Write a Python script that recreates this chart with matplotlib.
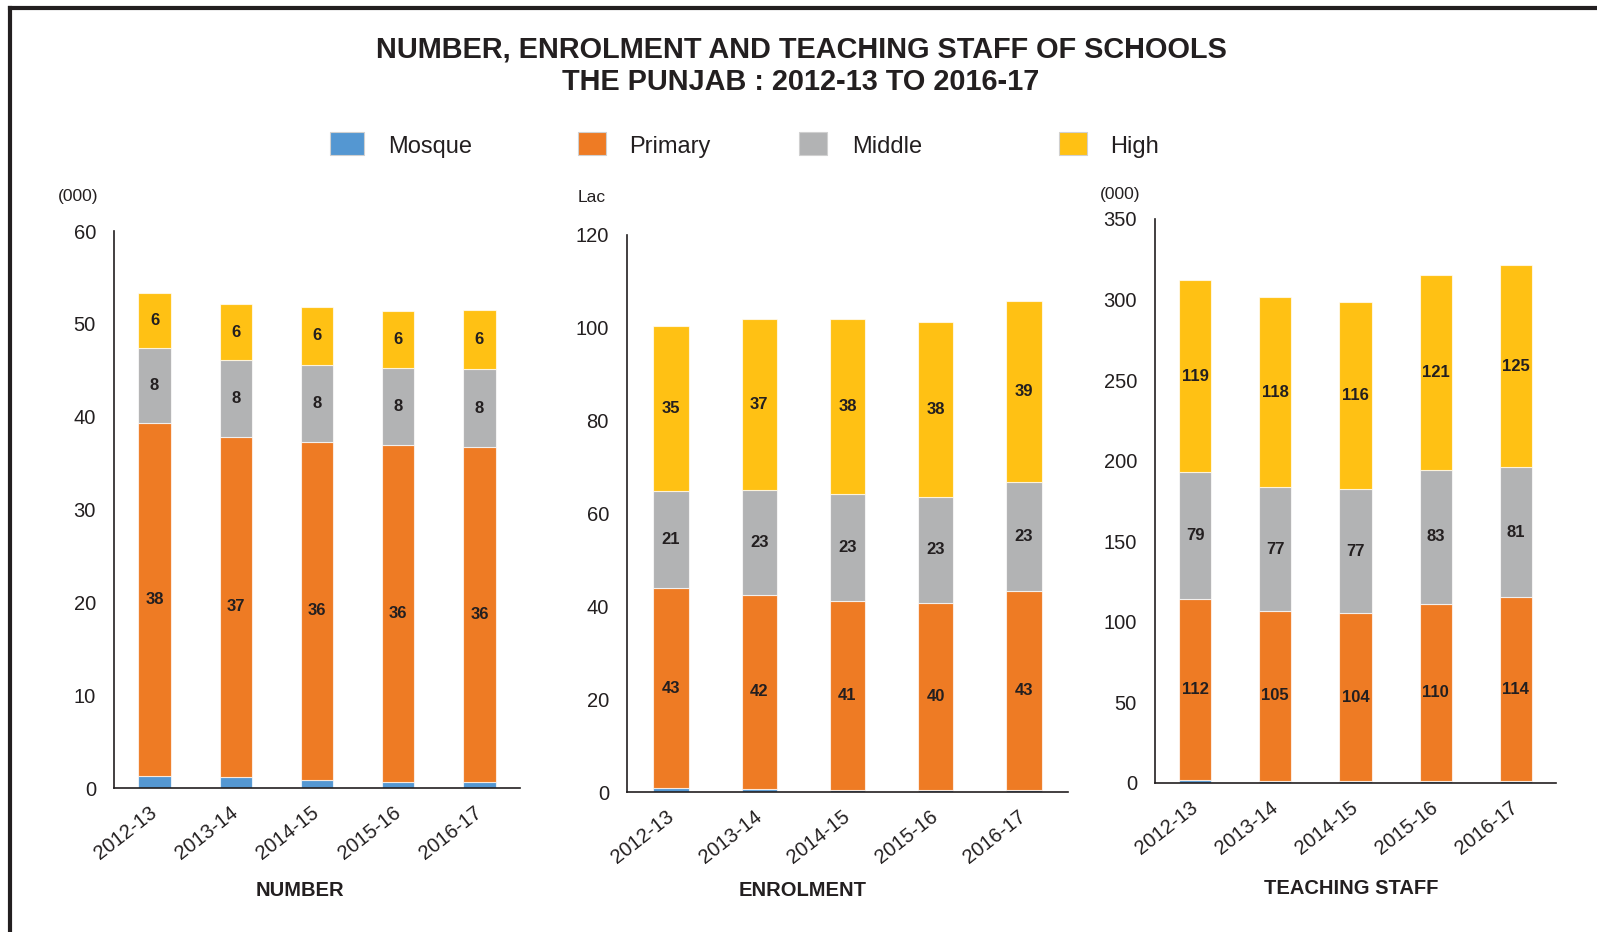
import matplotlib
matplotlib.use("Agg")
import matplotlib.pyplot as plt
from matplotlib.patches import Rectangle
from matplotlib.lines import Line2D

plt.rcParams['font.family'] = ['Liberation Sans', 'DejaVu Sans']

years = ['2012-13', '2013-14', '2014-15', '2015-16', '2016-17']
series_names = ['Mosque', 'Primary', 'Middle', 'High']
colors = ['#5497D2', '#EE7B24', '#B2B3B4', '#FFC114']

num_mosque = [1.3, 1.2, 0.9, 0.7, 0.7]
num_primary = [38.0, 36.6, 36.4, 36.2, 36.0]
num_middle = [8.1, 8.3, 8.3, 8.3, 8.4]
num_high = [5.9, 6.0, 6.2, 6.2, 6.4]

enr_mosque = [0.9, 0.7, 0.5, 0.5, 0.5]
enr_primary = [43.0, 41.8, 40.6, 40.3, 42.9]
enr_middle = [21.0, 22.6, 23.1, 22.8, 23.3]
enr_high = [35.4, 36.7, 37.7, 37.6, 39.0]

staff_mosque = [1.9, 1.5, 1.3, 1.2, 1.2]
staff_primary = [112, 105, 104, 110, 114]
staff_middle = [79, 77, 77, 83, 81]
staff_high = [119, 118, 116, 121, 125]

W, H = 1597, 932
fig = plt.figure(figsize=(W / 100, H / 100), dpi=100)
TXT = '#231F20'


def fx(px):
    return px / W


def fy(py):
    return 1 - py / H


panels = [
    dict(rect=(114, 231, 520, 788), data=[num_mosque, num_primary, num_middle, num_high],
         ylim=60, step=10, unit='(000)', unit_xy=(78, 197), name='NUMBER', name_xy=(300, 891)),
    dict(rect=(627, 235, 1068, 792), data=[enr_mosque, enr_primary, enr_middle, enr_high],
         ylim=120, step=20, unit='Lac', unit_xy=(592, 197), name='ENROLMENT', name_xy=(803, 891)),
    dict(rect=(1155, 219, 1556, 783), data=[staff_mosque, staff_primary, staff_middle, staff_high],
         ylim=350, step=50, unit='(000)', unit_xy=(1120, 195), name='TEACHING STAFF', name_xy=(1351, 888)),
]

for p in panels:
    l, t, r, b = p['rect']
    ax = fig.add_axes([fx(l), fy(b), fx(r) - fx(l), fy(t) - fy(b)])
    x = list(range(len(years)))
    bottom = [0.0] * len(years)
    for si, (vals, c) in enumerate(zip(p['data'], colors)):
        ax.bar(x, vals, width=0.4, bottom=bottom, color=c,
               edgecolor=(1, 1, 1, 0.7), linewidth=0.8, zorder=2)
        if si > 0:
            for xi, (v, b0) in enumerate(zip(vals, bottom)):
                ax.text(xi, b0 + v / 2, f"{round(v):d}", ha='center', va='center',
                        fontsize=12, fontweight='bold', color=TXT, zorder=3)
        bottom = [b0 + v for b0, v in zip(bottom, vals)]
    ax.set_xlim(-0.5, len(years) - 0.5)
    ax.set_ylim(0, p['ylim'])
    ax.set_yticks(range(0, p['ylim'] + 1, p['step']))
    ax.set_xticks(x)
    ax.set_xticklabels(years, rotation=38, ha='right', va='center', rotation_mode='anchor')
    ax.tick_params(axis='y', length=0, pad=13, labelsize=14.5, labelcolor=TXT)
    ax.tick_params(axis='x', length=0, pad=16, labelsize=14.5, labelcolor=TXT)
    for s in ['top', 'right']:
        ax.spines[s].set_visible(False)
    for s in ['left', 'bottom']:
        ax.spines[s].set_color(TXT)
        ax.spines[s].set_linewidth(1.2)
    fig.text(fx(p['unit_xy'][0]), fy(p['unit_xy'][1]), p['unit'], ha='center', va='center',
             fontsize=12.5, color=TXT)
    fig.text(fx(p['name_xy'][0]), fy(p['name_xy'][1]), p['name'], ha='center', va='center',
             fontsize=14.5, fontweight='bold', color=TXT)

# Title
fig.text(fx(801), fy(49), 'NUMBER, ENROLMENT AND TEACHING STAFF OF SCHOOLS', ha='center',
         va='center', fontsize=20.8, fontweight='bold', color=TXT)
fig.text(fx(801), fy(82), 'THE PUNJAB : 2012-13 TO 2016-17', ha='center',
         va='center', fontsize=20.8, fontweight='bold', color=TXT)

# Legend (manual)
leg_patch_x = [330, 578, 799, 1059]
leg_patch_w = [34, 28, 28, 28]
leg_text_x = [388, 629, 852, 1110]
for name, c, px, pw, tx in zip(series_names, colors, leg_patch_x, leg_patch_w, leg_text_x):
    fig.patches.append(Rectangle((fx(px), fy(155)), pw / W, 23 / H, transform=fig.transFigure,
                                 facecolor=c, edgecolor='#D0D0D0', linewidth=0.8))
    fig.text(fx(tx), fy(147), name, ha='left', va='center', fontsize=17, color=TXT)

# Frame lines
fig.lines.append(Line2D([fx(10), 1.0], [fy(8), fy(8)], transform=fig.transFigure,
                        color=TXT, linewidth=3))
fig.lines.append(Line2D([fx(10), fx(10)], [fy(8), 0.0], transform=fig.transFigure,
                        color=TXT, linewidth=3))

fig.savefig('out.png', dpi=100)
